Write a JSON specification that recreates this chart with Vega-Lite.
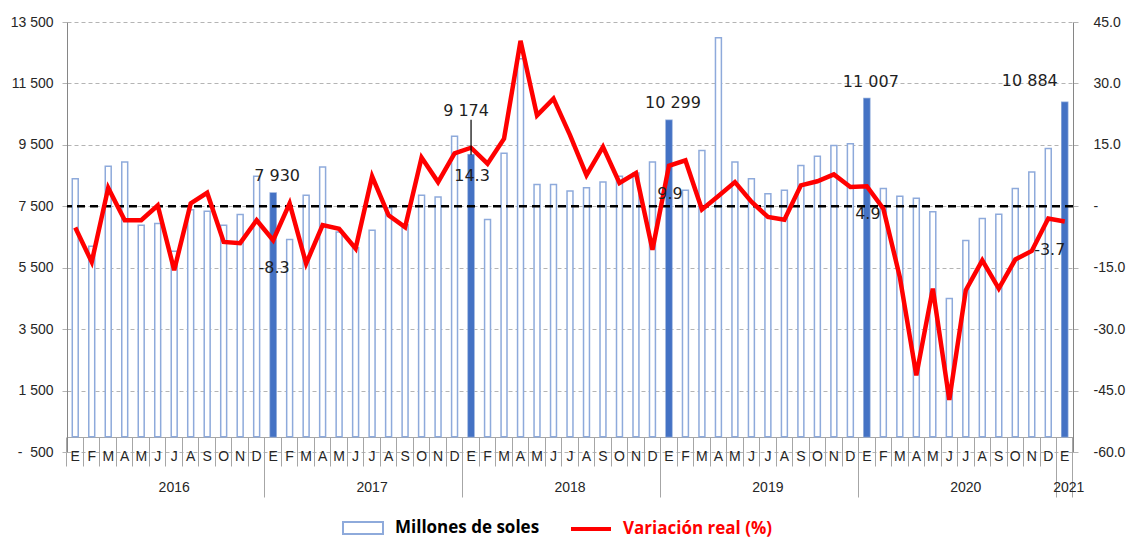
{
  "$schema": "https://vega.github.io/schema/vega-lite/v6.json",
  "width": 1006,
  "height": 430,
  "autosize": {"type": "none"},
  "padding": {"left": 67, "top": 22, "right": 59, "bottom": 90},
  "background": "#ffffff",
  "config": {
    "view": {"stroke": null},
    "axis": {"labelFont": "Liberation Sans", "labelColor": "#262626", "labelFontSize": 14, "title": null}
  },
  "data": {
    "values": [
      {"k": "2016-01", "v": 8400, "p": -5.2},
      {"k": "2016-02", "v": 6200, "p": -13.6},
      {"k": "2016-03", "v": 8800, "p": 4.5},
      {"k": "2016-04", "v": 8940, "p": -3.4},
      {"k": "2016-05", "v": 6880, "p": -3.4},
      {"k": "2016-06", "v": 6940, "p": 0.2},
      {"k": "2016-07", "v": 6040, "p": -15.6},
      {"k": "2016-08", "v": 7390, "p": 0.7},
      {"k": "2016-09", "v": 7340, "p": 3.3},
      {"k": "2016-10", "v": 6880, "p": -8.7},
      {"k": "2016-11", "v": 7230, "p": -9.0},
      {"k": "2016-12", "v": 8480, "p": -3.4},
      {"k": "2017-01", "v": 7930, "p": -8.3, "lv": "7 930", "lp": "-8.3"},
      {"k": "2017-02", "v": 6420, "p": 0.7},
      {"k": "2017-03", "v": 7860, "p": -14.0},
      {"k": "2017-04", "v": 8780, "p": -4.6},
      {"k": "2017-05", "v": 6660, "p": -5.5},
      {"k": "2017-06", "v": 6150, "p": -10.3},
      {"k": "2017-07", "v": 6720, "p": 7.3},
      {"k": "2017-08", "v": 7450, "p": -2.2},
      {"k": "2017-09", "v": 6900, "p": -5.1},
      {"k": "2017-10", "v": 7860, "p": 11.9},
      {"k": "2017-11", "v": 7800, "p": 5.9},
      {"k": "2017-12", "v": 9780, "p": 12.9},
      {"k": "2018-01", "v": 9174, "p": 14.3, "lv": "9 174", "lp": "14.3"},
      {"k": "2018-02", "v": 7070, "p": 10.4},
      {"k": "2018-03", "v": 9230, "p": 16.5},
      {"k": "2018-04", "v": 12300, "p": 40.4},
      {"k": "2018-05", "v": 8210, "p": 22.2},
      {"k": "2018-06", "v": 8210, "p": 26.3},
      {"k": "2018-07", "v": 8000, "p": 17.4},
      {"k": "2018-08", "v": 8100, "p": 7.6},
      {"k": "2018-09", "v": 8290, "p": 14.5},
      {"k": "2018-10", "v": 8480, "p": 5.7},
      {"k": "2018-11", "v": 8580, "p": 8.1},
      {"k": "2018-12", "v": 8940, "p": -10.6},
      {"k": "2019-01", "v": 10299, "p": 9.9, "lv": "10 299", "lp": "9.9"},
      {"k": "2019-02", "v": 8020, "p": 11.2},
      {"k": "2019-03", "v": 9320, "p": -0.8},
      {"k": "2019-04", "v": 12990, "p": 2.5},
      {"k": "2019-05", "v": 8940, "p": 5.9},
      {"k": "2019-06", "v": 8400, "p": 1.1},
      {"k": "2019-07", "v": 7910, "p": -2.6},
      {"k": "2019-08", "v": 8020, "p": -3.3},
      {"k": "2019-09", "v": 8830, "p": 5.1},
      {"k": "2019-10", "v": 9130, "p": 6.1},
      {"k": "2019-11", "v": 9480, "p": 7.8},
      {"k": "2019-12", "v": 9540, "p": 4.7},
      {"k": "2020-01", "v": 11007, "p": 4.9, "lv": "11 007", "lp": "4.9"},
      {"k": "2020-02", "v": 8080, "p": -0.6},
      {"k": "2020-03", "v": 7830, "p": -17.3},
      {"k": "2020-04", "v": 7760, "p": -41.3},
      {"k": "2020-05", "v": 7320, "p": -20.1},
      {"k": "2020-06", "v": 4500, "p": -47.3},
      {"k": "2020-07", "v": 6390, "p": -20.5},
      {"k": "2020-08", "v": 7100, "p": -13.2},
      {"k": "2020-09", "v": 7240, "p": -20.1},
      {"k": "2020-10", "v": 8080, "p": -13.0},
      {"k": "2020-11", "v": 8620, "p": -10.9},
      {"k": "2020-12", "v": 9380, "p": -3.0},
      {"k": "2021-01", "v": 10884, "p": -3.7, "lv": "10 884", "lp": "-3.7"}
    ]
  },
  "resolve": {"scale": {"y": "independent"}, "axis": {"x": "independent", "y": "independent"}},
  "layer": [
    {
      "mark": {"type": "bar", "fill": "#ffffff", "strokeWidth": 1.5, "width": {"band": 0.36}},
      "encoding": {
        "x": {
          "field": "k", "type": "ordinal",
          "scale": {"paddingInner": 0, "paddingOuter": 0},
          "axis": {
            "orient": "bottom", "offset": -15, "ticks": false, "domain": true, "domainColor": "#A6A6A6",
            "labelAngle": 0, "labelOverlap": false, "labelFlush": false, "labelBaseline": "top", "labelPadding": 12,
            "labelExpr": "['E','F','M','A','M','J','J','A','S','O','N','D'][toNumber(substring(datum.value,5,7))-1]",
            "grid": false, "title": null
          }
        },
        "y": {
          "field": "v", "type": "quantitative",
          "scale": {"domain": [-500, 13500], "nice": false},
          "axis": {
            "orient": "left", "values": [-500, 1500, 3500, 5500, 7500, 9500, 11500, 13500],
            "labelExpr": "datum.value == -500 ? '-\u00a0\u00a0500' : replace(format(datum.value, ','), ',', ' ')",
            "grid": true, "gridColor": "#B4B4B4", "gridDash": [4, 3], "gridWidth": 1,
            "domainColor": "#868686", "tickColor": "#B4B4B4", "tickSize": 5, "labelPadding": 9, "title": null
          }
        },
        "stroke": {
          "datum": "Millones de soles",
          "scale": {"range": ["#8EAADB"]},
          "legend": {
            "orient": "none", "legendX": 275, "legendY": 485, "title": null, "padding": 0,
            "symbolType": "M-1,-0.3H1V0.3H-1Z", "symbolSize": 1600, "symbolFillColor": "#FFFFFF", "symbolStrokeWidth": 2,
            "labelFont": "Open Sans", "labelFontSize": 17, "labelFontWeight": "bold", "labelColor": "#000000", "labelOffset": 11, "labelLimit": 250
          }
        }
      }
    },
    {
      "transform": [{"filter": "isValid(datum.lv)"}],
      "mark": {"type": "bar", "color": "#4472C4", "width": {"band": 0.36}},
      "encoding": {
        "x": {
          "field": "k", "type": "ordinal",
          "axis": {"orient": "bottom", "offset": -15, "bandPosition": 0, "ticks": true, "tickSize": 29, "tickColor": "#A6A6A6", "labels": false, "domain": false, "grid": false, "title": null}
        },
        "y": {"field": "v", "type": "quantitative", "scale": {"domain": [-500, 13500], "nice": false}, "axis": null}
      }
    },
    {
      "data": {"values": [{"nivel": 0}]},
      "mark": {"type": "rule", "color": "#000000", "strokeWidth": 2.5, "strokeDash": [8, 5]},
      "encoding": {
        "y": {"field": "nivel", "type": "quantitative", "scale": {"domain": [-60, 45], "nice": false}, "axis": null}
      }
    },
    {
      "mark": {"type": "line", "strokeWidth": 4.5, "strokeJoin": "miter"},
      "encoding": {
        "x": {
          "field": "k", "type": "ordinal",
          "axis": {"orient": "bottom", "offset": -15, "bandPosition": 0, "values": ["2016-01", "2017-01", "2018-01", "2019-01", "2020-01", "2021-01"], "ticks": true, "tickSize": 60, "tickColor": "#A6A6A6", "labels": false, "domain": false, "grid": false, "title": null}
        },
        "y": {
          "field": "p", "type": "quantitative",
          "scale": {"domain": [-60, 45], "nice": false},
          "axis": {
            "orient": "right", "values": [-60, -45, -30, -15, 0, 15, 30, 45],
            "labelExpr": "datum.value == 0 ? '-' : replace(format(datum.value, '.1f'), '\u2212', '-')",
            "grid": false, "domainColor": "#868686", "tickColor": "#B4B4B4", "tickSize": 5, "labelPadding": 15, "title": null
          }
        },
        "color": {
          "datum": "Variación real (%)",
          "scale": {"range": ["#FF0000"]},
          "legend": {
            "orient": "none", "legendX": 502, "legendY": 485, "title": null, "padding": 0,
            "symbolType": "stroke", "symbolSize": 1600, "symbolStrokeWidth": 4,
            "labelFont": "Open Sans", "labelFontSize": 17, "labelFontWeight": "bold", "labelColor": "#FF0000", "labelOffset": 10, "labelLimit": 250
          }
        }
      }
    },
    {
      "transform": [{"filter": {"field": "k", "equal": "2018-01"}}],
      "mark": {"type": "rule", "color": "#000000", "strokeWidth": 1.2, "y2Offset": -35},
      "encoding": {
        "x": {"field": "k", "type": "ordinal", "axis": null},
        "y": {"field": "v", "type": "quantitative", "scale": {"domain": [-500, 13500], "nice": false}, "axis": null},
        "y2": {"field": "v"}
      }
    },
    {
      "transform": [{"filter": {"field": "k", "oneOf": ["2017-01", "2019-01", "2020-01"]}}],
      "mark": {"type": "text", "font": "DejaVu Sans", "fontSize": 16, "color": "#1F1F1F", "dy": -17, "dx": 4},
      "encoding": {
        "x": {
          "field": "k", "type": "ordinal",
          "axis": {"orient": "bottom", "offset": -15, "bandPosition": 1, "values": ["2021-01"], "ticks": true, "tickSize": 60, "tickColor": "#A6A6A6", "labels": false, "domain": false, "grid": false, "title": null}
        },
        "y": {"field": "v", "type": "quantitative", "scale": {"domain": [-500, 13500], "nice": false}, "axis": null},
        "text": {"field": "lv"}
      }
    },
    {
      "transform": [{"filter": {"field": "k", "equal": "2018-01"}}],
      "mark": {"type": "text", "font": "DejaVu Sans", "fontSize": 16, "color": "#1F1F1F", "dy": -44, "dx": -5},
      "encoding": {
        "x": {"field": "k", "type": "ordinal", "axis": null},
        "y": {"field": "v", "type": "quantitative", "scale": {"domain": [-500, 13500], "nice": false}, "axis": null},
        "text": {"field": "lv"}
      }
    },
    {
      "transform": [{"filter": {"field": "k", "equal": "2021-01"}}],
      "mark": {"type": "text", "font": "DejaVu Sans", "fontSize": 16, "color": "#1F1F1F", "dy": -21, "dx": -35},
      "encoding": {
        "x": {"field": "k", "type": "ordinal", "axis": null},
        "y": {"field": "v", "type": "quantitative", "scale": {"domain": [-500, 13500], "nice": false}, "axis": null},
        "text": {"field": "lv"}
      }
    },
    {
      "transform": [{"filter": {"field": "k", "oneOf": ["2017-01", "2018-01", "2019-01", "2020-01"]}}],
      "mark": {"type": "text", "font": "DejaVu Sans", "fontSize": 16, "color": "#1F1F1F", "dy": 28, "dx": 1},
      "encoding": {
        "x": {
          "field": "k", "type": "ordinal",
          "axis": {
            "orient": "bottom", "offset": -15, "bandPosition": 0,
            "values": ["2016-07", "2017-07", "2018-07", "2019-07", "2020-07", "2021-01"],
            "labelOffset": {"condition": {"test": "datum.value == '2021-01'", "value": 4}, "value": 0},
            "labelExpr": "substring(datum.value, 0, 4)", "labelAngle": 0, "labelOverlap": false, "labelFlush": false,
            "labelBaseline": "top", "labelPadding": 43, "ticks": false, "domain": false, "grid": false, "title": null
          }
        },
        "y": {"field": "p", "type": "quantitative", "scale": {"domain": [-60, 45], "nice": false}, "axis": null},
        "text": {"field": "lp"}
      }
    },
    {
      "transform": [{"filter": {"field": "k", "equal": "2021-01"}}],
      "mark": {"type": "text", "font": "DejaVu Sans", "fontSize": 16, "color": "#1F1F1F", "dy": 29, "dx": -15},
      "encoding": {
        "x": {"field": "k", "type": "ordinal", "axis": null},
        "y": {"field": "p", "type": "quantitative", "scale": {"domain": [-60, 45], "nice": false}, "axis": null},
        "text": {"field": "lp"}
      }
    }
  ]
}
